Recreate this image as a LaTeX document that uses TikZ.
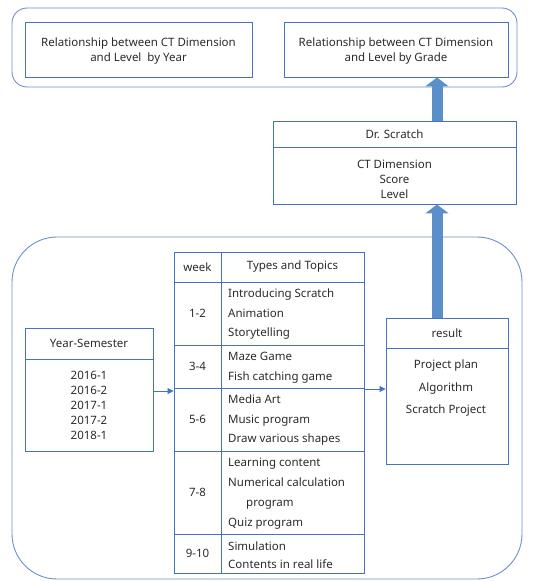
\documentclass[tikz,border=0pt]{standalone}
\usepackage{fontspec}
\setmainfont{Noto Sans}
\usetikzlibrary{arrows.meta,calc}
\definecolor{boxblue}{HTML}{4472C4}
\definecolor{rblue}{HTML}{6A8FCB}
\definecolor{fatblue}{HTML}{5B8FC9}
\definecolor{txt}{HTML}{2A2A2A}
\begin{document}
\begin{tikzpicture}[x=1pt,y=-1pt,
  font=\fontsize{11.5}{15}\selectfont,
  box/.style={draw=boxblue, line width=0.9pt, rectangle, text=txt, inner sep=0pt, align=center},
  rbox/.style={draw=rblue, line width=0.9pt, rectangle, rounded corners=15pt, inner sep=0pt},
  lbl/.style={text=txt, inner sep=0pt, text height=8.5pt, text depth=2.5pt},
  mtxt/.style={text=txt, inner sep=0pt, align=center},
  thinarrow/.style={draw=boxblue, line width=0.8pt, -{Triangle[width=6pt,length=6pt]}},
  fatarrow/.style={draw=fatblue, line width=11pt, -{Triangle[width=23pt,length=9pt]}},
  wk/.style={box, minimum width=47pt},
  tp/.style={box, minimum width=143pt}]
\useasboundingbox (0,0) rectangle (544,581);
% top group
\node[rbox, minimum width=505pt, minimum height=79pt] (top) at (264.5,47.5) {};
\node[box, minimum width=227pt, minimum height=55pt] (yr) at (138.5,49.5) {};
\node[mtxt] (yrt) at (138.5,51.5) {Relationship between CT Dimension\\and Level~ by Year};
\node[box, minimum width=224pt, minimum height=55pt] (gr) at (396,49.5) {};
\node[mtxt] (grt) at (396,51.5) {Relationship between CT Dimension\\and Level by Grade};
% Dr. Scratch
\node[box, minimum width=243pt, minimum height=26pt] (drh) at (394.5,134) {Dr. Scratch};
\node[box, minimum width=243pt, minimum height=57pt] (drb) at (394.5,175.5) {};
\node[mtxt] (drt) at (394.5,179.5) {CT Dimension\\Score\\Level};
% bottom group
\node[rbox, rounded corners=45pt, minimum width=510pt, minimum height=342pt] (bot) at (267,408) {};
% Year-Semester
\node[box, minimum width=128pt, minimum height=31pt] (ysh) at (89,343.5) {Year-Semester};
\node[box, minimum width=128pt, minimum height=92pt] (ysb) at (89,405) {2016-1\\2016-2\\2017-1\\2017-2\\2018-1};
% table
\node[wk, minimum height=30pt] (w0) at (197.5,267) {week};
\node[tp, minimum height=30pt] (t0) at (292.5,267) {Types and Topics};
\node[wk, minimum height=63pt] (w1) at (197.5,313.5) {1-2};
\node[tp, minimum height=63pt] (t1) at (292.5,313.5) {};
\node[wk, minimum height=43pt] (w2) at (197.5,366.5) {3-4};
\node[tp, minimum height=43pt] (t2) at (292.5,366.5) {};
\node[wk, minimum height=63pt] (w3) at (197.5,419.5) {5-6};
\node[tp, minimum height=63pt] (t3) at (292.5,419.5) {};
\node[wk, minimum height=83pt] (w4) at (197.5,492.5) {7-8};
\node[tp, minimum height=83pt] (t4) at (292.5,492.5) {};
\node[wk, minimum height=39pt] (w5) at (197.5,553.5) {9-10};
\node[tp, minimum height=39pt] (t5) at (292.5,553.5) {};
% topics
\node[lbl, anchor=west] (a1) at (228,294) {Introducing Scratch};
\node[lbl, anchor=west] (a2) at (228,314) {Animation};
\node[lbl, anchor=west] (a3) at (228,333) {Storytelling};
\node[lbl, anchor=west] (b1) at (228,357) {Maze Game};
\node[lbl, anchor=west] (b2) at (228,377) {Fish catching game};
\node[lbl, anchor=west] (c1) at (228,400) {Media Art};
\node[lbl, anchor=west] (c2) at (228,420) {Music program};
\node[lbl, anchor=west] (c3) at (228,439) {Draw various shapes};
\node[lbl, anchor=west] (d1) at (228,463) {Learning content};
\node[lbl, anchor=west] (d2) at (228,483) {Numerical calculation};
\node[lbl, anchor=west] (d3) at (246,503) {program};
\node[lbl, anchor=west] (d4) at (228,523) {Quiz program};
\node[lbl, anchor=west] (e1) at (228,547) {Simulation};
\node[lbl, anchor=west] (e2) at (228,565) {Contents in real life};
% result
\node[box, minimum width=122pt, minimum height=30pt] (resh) at (447,333) {result};
\node[box, minimum width=122pt, minimum height=116pt] (resb) at (447,406) {};
\node[lbl] (r1) at (446,365) {Project plan};
\node[lbl] (r2) at (446,388) {Algorithm};
\node[lbl] (r3) at (446,410) {Scratch Project};
% connectors
\coordinate (ya) at (0,391);
\coordinate (yb) at (0,389);
\coordinate (fx) at (437,0);
\draw[thinarrow] (ysb.east |- ya) -- (w3.west |- ya);
\draw[thinarrow] (t3.east |- yb) -- (resb.west |- yb);
\draw[fatarrow] (drh.north -| fx) -- (gr.south -| fx);
\draw[fatarrow] (resh.north -| fx) -- (drb.south -| fx);
\end{tikzpicture}
\end{document}
